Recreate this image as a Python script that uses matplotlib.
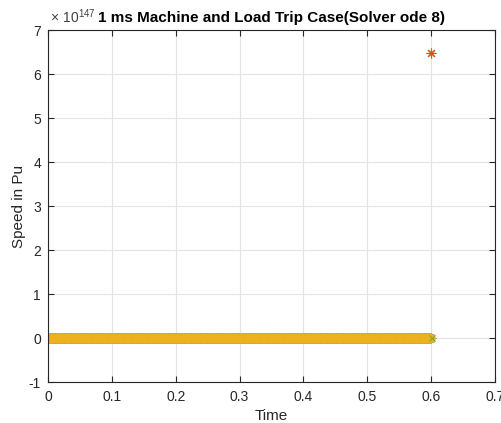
import numpy as np
import matplotlib
matplotlib.use("Agg")
import matplotlib.pyplot as plt
from matplotlib.ticker import FuncFormatter

plt.rcParams["font.family"] = ["Liberation Sans", "DejaVu Sans"]
plt.rcParams["axes.unicode_minus"] = False
plt.rcParams["mathtext.fontset"] = "custom"
plt.rcParams["mathtext.rm"] = "Liberation Sans"

# simulation grid (1 ms step)
t_start = 0.0
t_end = 0.6
dt = 0.001
time = np.round(np.arange(t_start, t_end + dt / 2, dt), 6)

# machine speeds: flat at 0 pu until the solver blows up on the last step
speed_m1 = np.zeros_like(time)
speed_m2 = np.zeros_like(time)
speed_m2[-1] = 6.47e147
speed_m3 = np.zeros_like(time)
speed_m4_t = [0.6015]
speed_m4 = [0.0]

scale_exp = 147
colors = ["#0072BD", "#D95319", "#EDB120", "#77AC30"]

fig = plt.figure(figsize=(5.02, 4.23), dpi=100)
ax = fig.add_axes([0.0956, 0.0969, 0.8904, 0.8321])

star = (8, 2, 0)
ax.plot(time, speed_m1, linestyle="none", marker=star, markersize=7, color=colors[0], markeredgewidth=0.8)
ax.plot(time, speed_m2, linestyle="none", marker=star, markersize=7, color=colors[1], markeredgewidth=0.8)
ax.plot(time, speed_m3, linestyle="none", marker=star, markersize=7, color=colors[2], markeredgewidth=0.8)
ax.plot(speed_m4_t, speed_m4, linestyle="none", marker="x", markersize=5, color=colors[3], markeredgewidth=0.8)

ax.set_xlim(0, 0.7)
ax.set_ylim(-1 * 10.0 ** scale_exp, 7 * 10.0 ** scale_exp)
ax.set_xticks(np.arange(0, 0.71, 0.1))
ax.set_yticks(np.arange(-1, 8) * 10.0 ** scale_exp)

ax.xaxis.set_major_formatter(FuncFormatter(lambda v, p: f"{v:g}"))
ax.yaxis.set_major_formatter(FuncFormatter(lambda v, p: f"{round(v / 10.0 ** scale_exp):d}"))

ax.grid(True, color="#E3E3E3", linewidth=0.8)
ax.set_axisbelow(True)
for s in ax.spines.values():
    s.set_color("#262626")
    s.set_linewidth(0.8)
ax.tick_params(direction="in", top=True, right=True, labelsize=10,
               colors="#262626", length=4, width=0.8)
ax.tick_params(axis="x", pad=6)
ax.tick_params(axis="y", pad=5)

# exponent label above the y axis
ax.text(0.005, 1.012, r"$\times\ \mathregular{10}^{\mathregular{%d}}$" % scale_exp,
        transform=ax.transAxes, fontsize=10, color="#404040",
        ha="left", va="bottom")

ax.set_xlabel("Time", fontsize=11, color="#262626", labelpad=3)
ax.set_ylabel("Speed in Pu", fontsize=11, color="#262626", labelpad=2)
ax.set_title("1 ms Machine and Load Trip Case(Solver ode 8)", fontsize=11,
             fontweight="bold", color="black", pad=6)

fig.savefig("out.png", dpi=100)
